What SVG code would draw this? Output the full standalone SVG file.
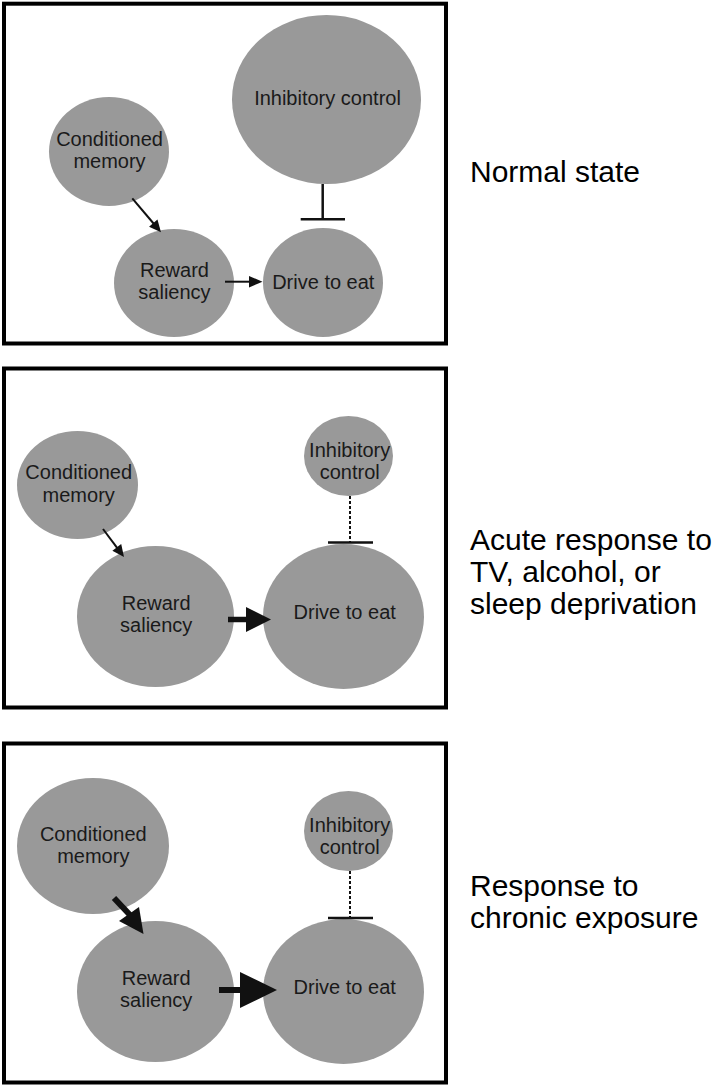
<svg xmlns="http://www.w3.org/2000/svg" width="717" height="1087" viewBox="0 0 717 1087">
<style>
.box{fill:none;stroke:#000;stroke-width:4}
.node{fill:#999}
.t{font-family:"Liberation Sans",Arial,sans-serif;font-size:20px;fill:#1a1a1a;text-anchor:middle}
.lbl{font-family:"Liberation Sans",Arial,sans-serif;font-size:30px;fill:#000}
.edge{stroke:#111;fill:none}
.head{fill:#111}
.dash{stroke-dasharray:3 2}
</style>
<rect width="717" height="1087" fill="#fff"/>
<g id="panels">
<rect class="box" x="4" y="3.7" width="442" height="339.8"/>
<rect class="box" x="4" y="368.5" width="442" height="339"/>
<rect class="box" x="4" y="743.5" width="442" height="339"/>
</g>
<g id="labels">
<text class="lbl" x="470" y="182">Normal state</text>
<text class="lbl" x="470" y="550">Acute response to</text>
<text class="lbl" x="470" y="582">TV, alcohol, or</text>
<text class="lbl" x="470" y="614">sleep deprivation</text>
<text class="lbl" x="470" y="896">Response to</text>
<text class="lbl" x="470" y="928">chronic exposure</text>
</g>
<g id="p1-inhibitory">
<ellipse class="node" cx="326.5" cy="99.5" rx="94.5" ry="84.5"/>
<text class="t" x="327.5" y="105">Inhibitory control</text>
</g>
<g id="p1-conditioned">
<ellipse class="node" cx="109" cy="151.5" rx="60" ry="54.5"/>
<text class="t" x="109.5" y="145.7">Conditioned</text>
<text class="t" x="109.5" y="168.3">memory</text>
</g>
<g id="p1-reward">
<ellipse class="node" cx="174" cy="283" rx="60" ry="54"/>
<text class="t" x="174.5" y="277.3">Reward</text>
<text class="t" x="174.5" y="299.3">saliency</text>
</g>
<g id="p1-drive">
<ellipse class="node" cx="323" cy="282.5" rx="60" ry="54.5"/>
<text class="t" x="323.3" y="289.3">Drive to eat</text>
</g>
<g id="p2-inhibitory">
<ellipse class="node" cx="348.5" cy="456" rx="44.5" ry="40"/>
<text class="t" x="349.7" y="456.7">Inhibitory</text>
<text class="t" x="349.7" y="479">control</text>
</g>
<g id="p2-conditioned">
<ellipse class="node" cx="77.5" cy="485" rx="60.5" ry="54"/>
<text class="t" x="78.7" y="479">Conditioned</text>
<text class="t" x="78.7" y="502">memory</text>
</g>
<g id="p2-reward">
<ellipse class="node" cx="155.5" cy="616.5" rx="78.5" ry="70.5"/>
<text class="t" x="156.2" y="610">Reward</text>
<text class="t" x="156.2" y="631.7">saliency</text>
</g>
<g id="p2-drive">
<ellipse class="node" cx="343.5" cy="616.5" rx="80.5" ry="72.5"/>
<text class="t" x="344.7" y="619.3">Drive to eat</text>
</g>
<g id="p3-inhibitory">
<ellipse class="node" cx="348.5" cy="831" rx="44.5" ry="40"/>
<text class="t" x="349.7" y="831.7">Inhibitory</text>
<text class="t" x="349.7" y="854">control</text>
</g>
<g id="p3-conditioned">
<ellipse class="node" cx="93" cy="846" rx="76" ry="68"/>
<text class="t" x="93.3" y="841">Conditioned</text>
<text class="t" x="93.3" y="863.3">memory</text>
</g>
<g id="p3-reward">
<ellipse class="node" cx="155.5" cy="991.5" rx="78.5" ry="70.5"/>
<text class="t" x="156.2" y="985">Reward</text>
<text class="t" x="156.2" y="1006.7">saliency</text>
</g>
<g id="p3-drive">
<ellipse class="node" cx="343.5" cy="991.5" rx="80.5" ry="72.5"/>
<text class="t" x="344.7" y="994.3">Drive to eat</text>
</g>
<g id="connectors">
<line class="edge" x1="132.3" y1="198.3" x2="154" y2="224" stroke-width="2"/>
<polygon class="head" points="149.06,226.68 161,232.3 157.46,219.58"/>
<line class="edge" x1="225" y1="281.7" x2="251" y2="281.7" stroke-width="2"/>
<polygon class="head" points="249,276 262.5,281.7 249,287.4"/>
<line class="edge" x1="322.7" y1="184" x2="322.7" y2="219.3" stroke-width="2.5"/>
<line class="edge" x1="300.7" y1="219.3" x2="345" y2="219.3" stroke-width="2.5"/>

<line class="edge" x1="103" y1="529" x2="117.5" y2="548.4" stroke-width="2"/>
<polygon class="head" points="112.4,550.7 124,557 121.2,544.1"/>
<line class="edge" x1="228" y1="619.5" x2="248" y2="619.5" stroke-width="5.5"/>
<polygon class="head" points="246,607 271,619.5 246,632"/>
<line class="edge dash" x1="350" y1="496" x2="350" y2="542" stroke-width="2"/>
<line class="edge" x1="328" y1="542.5" x2="373" y2="542.5" stroke-width="2.5"/>

<line class="edge" x1="114" y1="898" x2="130" y2="915" stroke-width="6"/>
<polygon class="head" points="119,921 143.5,934 139,907"/>
<line class="edge" x1="219" y1="990" x2="242" y2="990" stroke-width="6"/>
<polygon class="head" points="240,972 277,990 240,1008"/>
<line class="edge dash" x1="350" y1="871" x2="350" y2="917" stroke-width="2"/>
<line class="edge" x1="328" y1="918" x2="373" y2="918" stroke-width="2.5"/>
</g>
</svg>
